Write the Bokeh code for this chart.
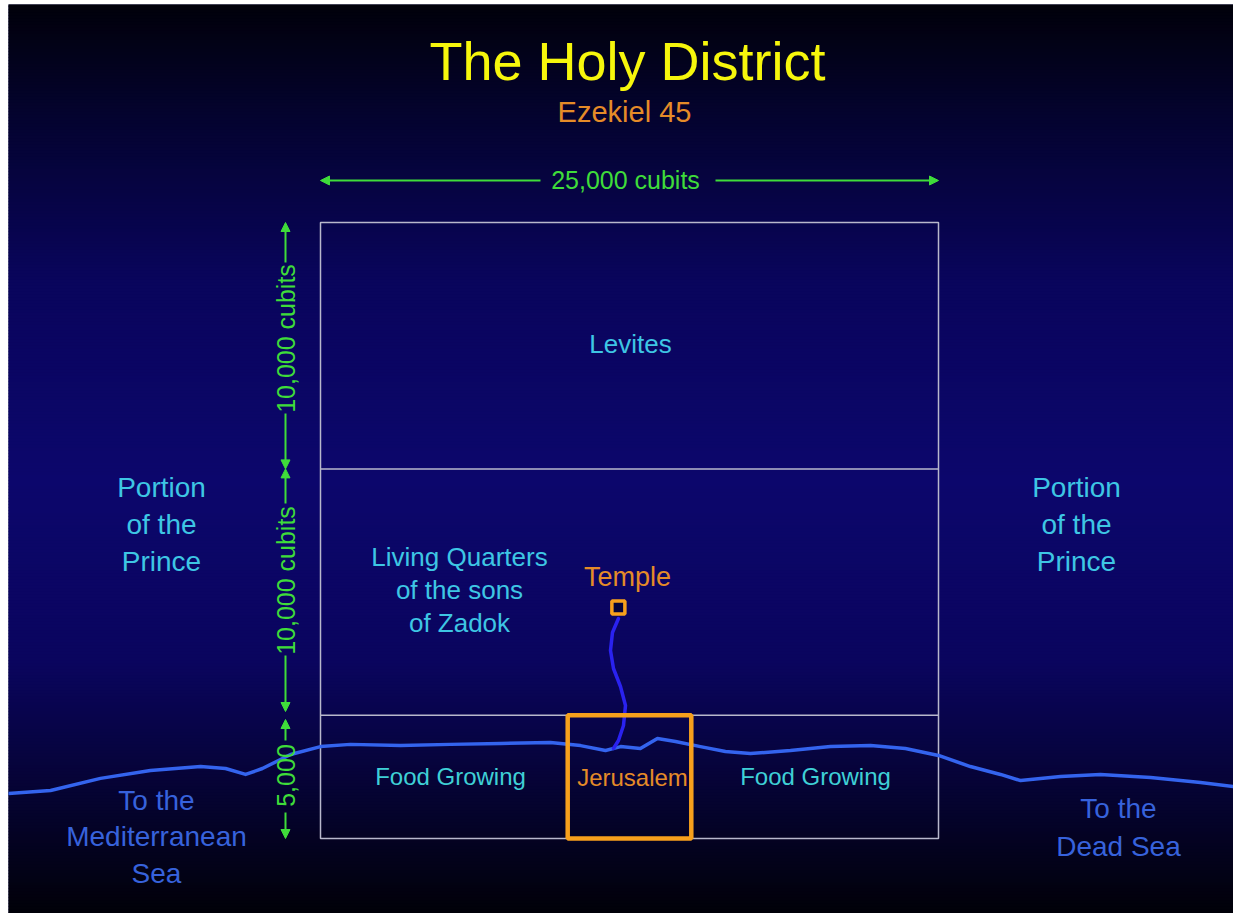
import math
from bokeh.plotting import figure
from bokeh.models import Range1d, Arrow, NormalHead
from bokeh.core.properties import value
from bokeh.embed import file_html
from bokeh.resources import INLINE

# ---------------- data (cubits) ----------------
district_width = 25000
band_bounds = [0, 5000, 15000, 25000]          # city strip, priests, Levites
band_dim_labels = ["5,000", "10,000 cubits", "10,000 cubits"]
width_label = "25,000 cubits"
city_x = [10000, 15000]
city_y = [0, 5000]
temple_x = [12050]
temple_y = [9370]

ridge_x = [-12620, -10920, -8900, -6880, -4850, -3840, -3030, -2350, -1210, 0, 1210, 3240,
           5260, 7280, 9300, 10520, 11530, 12140, 12940, 13630, 14360, 15370, 16380, 17390,
           19010, 20630, 22250, 23660, 25000, 26290, 27510, 28320, 29940, 31550, 33580, 35600, 36930]
ridge_y = [1830, 1950, 2440, 2760, 2920, 2840, 2600, 2840, 3410, 3730, 3820, 3770,
           3820, 3860, 3900, 3770, 3570, 3730, 3650, 4060, 3940, 3730, 3530, 3450,
           3570, 3730, 3770, 3650, 3370, 2920, 2600, 2350, 2520, 2600, 2480, 2270, 2110]

stream_x = [12054, 11812, 11731, 11852, 12135, 12338, 12257, 12054, 11852]
stream_y = [8928, 8360, 7630, 6899, 6169, 5398, 4586, 3977, 3652]

title = "The Holy District"
subtitle = "Ezekiel 45"
prince_lines = ["Portion", "of the", "Prince"]
zadok_lines = ["Living Quarters", "of the sons", "of Zadok"]
levites_label = "Levites"
food_label = "Food Growing"
city_label = "Jerusalem"
temple_label = "Temple"
west_lines = ["To the", "Mediterranean", "Sea"]
east_lines = ["To the", "Dead Sea"]

# ---------------- layout ----------------
W, H = 1233, 913
BL, BT = 8, 4                                  # white page strip left / top
PX_L, PX_R, PX_T, PX_B = 320, 938, 222, 838   # page pixels of district corners
kx = district_width / (PX_R - PX_L)
ky = band_bounds[-1] / (PX_B - PX_T)
def X(px): return (px - PX_L) * kx
def Y(py): return (PX_B - py) * ky

FONT = value("Liberation Sans")
YELLOW = "#f6f60c"
ORANGE_T = "#e58b28"
ORANGE = "#f7a01c"
GREEN = "#3fdc3a"
CYAN = "#3ec6e4"
TEAL = "#3fd0d6"
BLUE_T = "#3762dc"
RIDGE = "#3464ee"
STREAM = "#2a22f0"
GRAY = "#b8b8cc"

p = figure(width=W, height=H, output_backend="svg", toolbar_location=None,
           x_range=Range1d(X(BL), X(W)), y_range=Range1d(Y(H), Y(BT)),
           min_border_left=BL, min_border_top=BT, min_border_right=0, min_border_bottom=0,
           x_axis_location=None, y_axis_location=None)
p.grid.visible = False
p.outline_line_color = None
p.background_fill_color = "#05043a"
p.border_fill_color = "white"

# background gradient
stops_y = [4, 120, 280, 480, 660, 800, 913]
stops_c = [(1, 1, 10), (4, 3, 48), (9, 5, 92), (12, 6, 108), (10, 5, 94), (5, 3, 48), (1, 1, 8)]
def grad(py):
    for i in range(len(stops_y) - 1):
        if stops_y[i] <= py <= stops_y[i + 1]:
            t = (py - stops_y[i]) / (stops_y[i + 1] - stops_y[i])
            a, b = stops_c[i], stops_c[i + 1]
            return "#%02x%02x%02x" % tuple(int(round(a[k] + (b[k] - a[k]) * t)) for k in range(3))
    return "#%02x%02x%02x" % (stops_c[-1] if py > stops_y[-1] else stops_c[0])
tops, bots, cols = [], [], []
step = 3
py = 0
while py < H + 4:
    tops.append(Y(py)); bots.append(Y(py + step + 0.6)); cols.append(grad(py + step / 2))
    py += step
p.quad(left=X(0), right=X(1240), top=tops, bottom=bots, fill_color=cols, line_color=None)

# district outline and band dividers
p.quad(left=0, right=district_width, bottom=band_bounds[0], top=band_bounds[-1],
       fill_color=None, line_color=GRAY, line_width=1.5)
p.segment(x0=[0, 0], x1=[district_width] * 2, y0=band_bounds[1:3], y1=band_bounds[1:3],
          line_color=GRAY, line_width=1.5)

# ridge and stream
p.line(ridge_x, ridge_y, line_color=RIDGE, line_width=3.5, line_join="round", line_cap="round")
p.line(stream_x, stream_y, line_color=STREAM, line_width=3.5, line_join="round", line_cap="round")

# Jerusalem box and temple
p.quad(left=city_x[0], right=city_x[1], bottom=city_y[0], top=city_y[1],
       fill_color=None, line_color=ORANGE, line_width=4.5)
p.scatter(temple_x, temple_y, marker="square", size=13, fill_color="#06043a",
          line_color=ORANGE, line_width=3.5)

def arrow(x0, y0, x1, y1):
    p.add_layout(Arrow(end=NormalHead(size=9, fill_color=GREEN, line_color=GREEN, line_width=1),
                       x_start=x0, y_start=y0, x_end=x1, y_end=y1,
                       line_color=GREEN, line_width=2))

# horizontal dimension
hy = Y(180)
arrow(X(540), hy, 0, hy)
arrow(X(715), hy, district_width, hy)

# vertical dimensions
vx = X(285)
arrow(vx, Y(262), vx, band_bounds[3])
arrow(vx, Y(413), vx, band_bounds[2])
arrow(vx, Y(503), vx, band_bounds[2])
arrow(vx, Y(655), vx, Y(711))
arrow(vx, Y(740), vx, Y(719))
arrow(vx, Y(812), vx, band_bounds[0])
p.text(x=[vx] * 3, y=[Y(775), Y(580), Y(338)], text=band_dim_labels, angle=math.pi / 2,
       text_color=GREEN, text_font=FONT, text_font_size=value("25px"),
       text_align="center", text_baseline="middle")

def txt(xs, ys, texts, color, size, style="normal"):
    p.text(x=xs, y=ys, text=texts, text_color=color, text_font=FONT,
           text_font_size=value(size), text_align="center", text_baseline="middle",
           text_font_style=style)

txt([X(625)], [Y(179)], [width_label], GREEN, "25px")
txt([X(627)], [Y(60)], [title], YELLOW, "54px")
txt([X(624)], [Y(111)], [subtitle], ORANGE_T, "29px")
txt([X(630)], [Y(343)], [levites_label], CYAN, "26px")
txt([X(161)] * 3, [Y(487), Y(524), Y(561)], prince_lines, CYAN, "28px")
txt([X(1076)] * 3, [Y(487), Y(524), Y(561)], prince_lines, CYAN, "28px")
txt([X(459)] * 3, [Y(556), Y(589), Y(622)], zadok_lines, CYAN, "26px")
txt([X(627)], [Y(576)], [temple_label], ORANGE_T, "27px")
txt([X(450), X(815)], [Y(776), Y(776)], [food_label, food_label], TEAL, "24px")
txt([X(632)], [Y(777)], [city_label], ORANGE_T, "24px")
txt([X(156)] * 3, [Y(800), Y(836), Y(873)], west_lines, BLUE_T, "28px")
txt([X(1118)] * 2, [Y(808), Y(846)], east_lines, BLUE_T, "28px")

open("out.html", "w").write(file_html(p, INLINE))
